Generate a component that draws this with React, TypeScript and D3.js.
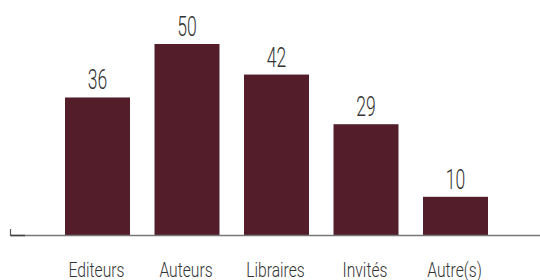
import React from "react";
import * as d3 from "d3";

const categories = ["Editeurs", "Auteurs", "Libraires", "Invités", "Autre(s)"];
const values = [36, 50, 42, 29, 10];

const W = 540;
const H = 280;
const baseY = 235;

export default function App() {
  const x = d3
    .scaleBand<string>()
    .domain(categories)
    .range([65, 488])
    .paddingInner(0.274)
    .paddingOuter(0);
  const y = d3.scaleLinear().domain([0, 50]).range([baseY, 44]);
  const font = "Roboto, 'Liberation Sans', sans-serif";
  return (
    <div style={{ position: "absolute", left: 0, top: 0 }}>
      <svg width={W} height={H} style={{ display: "block" }}>
        {categories.map((c, i) => {
          const bx = x(c)!;
          const cx = bx + x.bandwidth() / 2;
          return (
            <g key={c}>
              <rect
                x={bx}
                y={y(values[i])}
                width={x.bandwidth()}
                height={baseY - y(values[i])}
                fill="#531d2a"
              />
              <text
                transform={`translate(${cx},${y(values[i]) - 8}) scale(0.65,1)`}
                textAnchor="middle"
                fontFamily={font}
                fontWeight={300}
                fontSize={27}
                fill="#333"
              >
                {values[i]}
              </text>
              <text
                transform={`translate(${cx - 1},277) scale(0.745,1)`}
                textAnchor="middle"
                fontFamily={font}
                fontWeight={300}
                fontSize={21}
                fill="#333"
              >
                {c}
              </text>
            </g>
          );
        })}
        <line x1={10} x2={540} y1={235.5} y2={235.5} stroke="#777" strokeWidth={1.3} />
        <line x1={11} x2={25} y1={235.5} y2={235.5} stroke="#444" strokeWidth={1.5} />
        <line x1={10.5} x2={10.5} y1={229} y2={236} stroke="#555" strokeWidth={1.2} />
      </svg>
    </div>
  );
}
